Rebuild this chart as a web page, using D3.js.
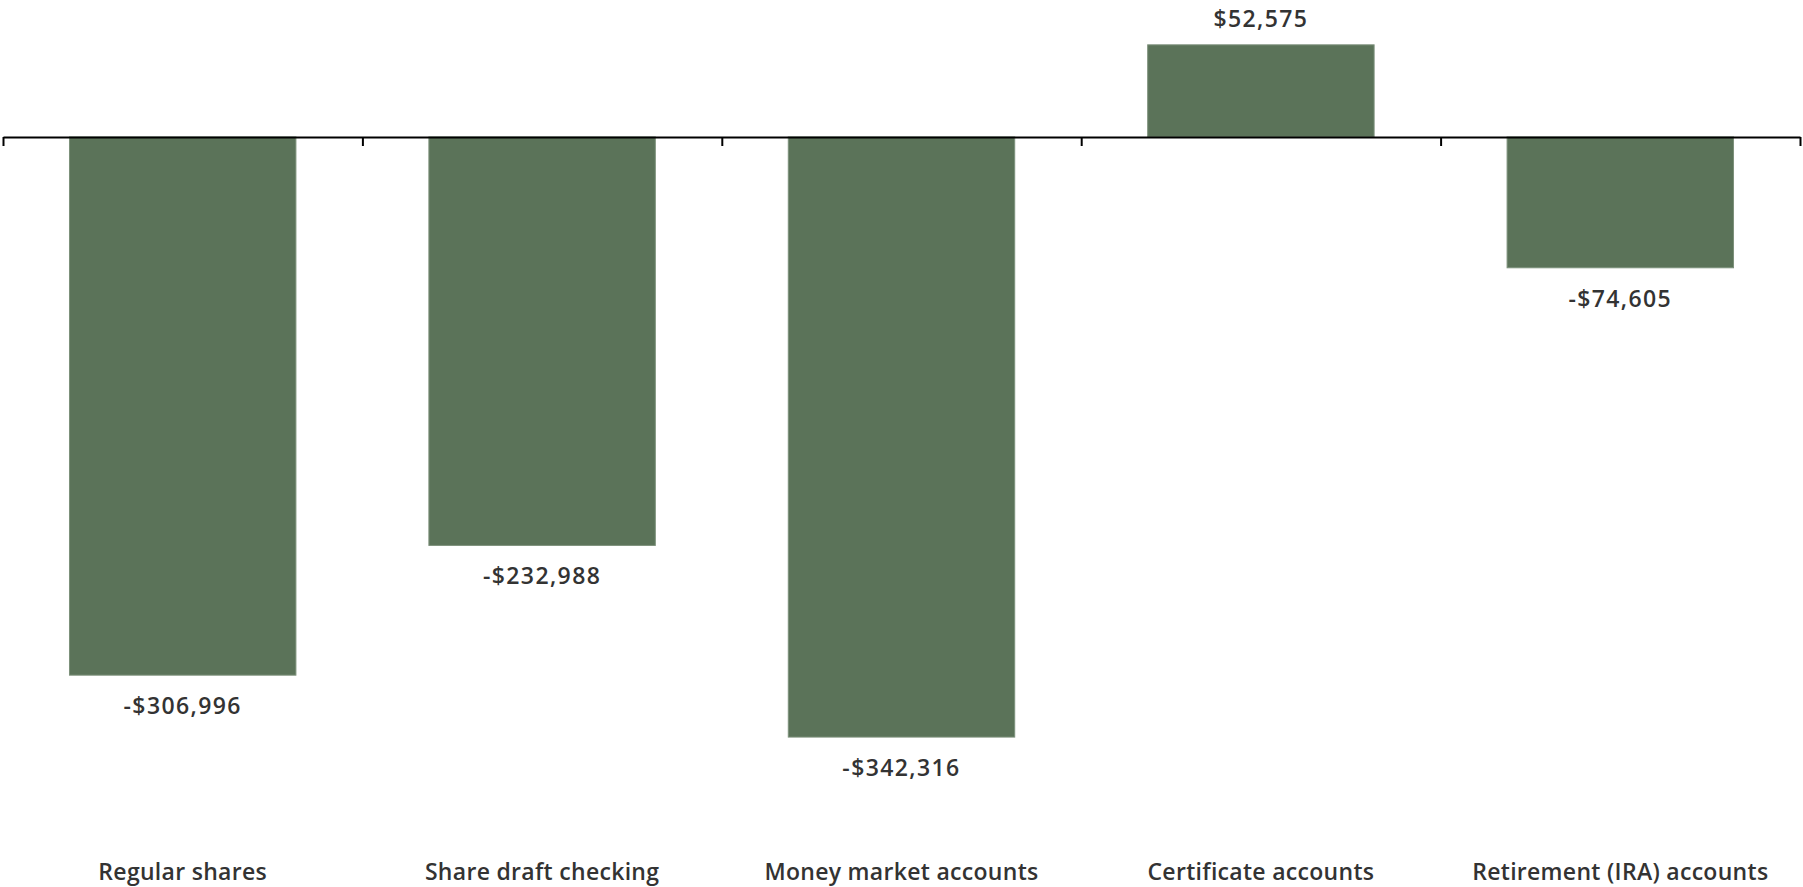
<!DOCTYPE html>
<html>
<head>
<meta charset="utf-8">
<script src="https://cdn.jsdelivr.net/npm/d3@7/dist/d3.min.js"></script>
<style>
  html, body { margin: 0; padding: 0; background: #fff; }
  svg { display: block; }
  text { font-family: "Open Sans", "Lato", sans-serif; fill: #333; }
</style>
</head>
<body>
<svg id="chart" width="1803" height="887"></svg>
<script>
// Change in balance by account type
const categories = ["Regular shares", "Share draft checking", "Money market accounts", "Certificate accounts", "Retirement (IRA) accounts"];
const values = [-306996, -232988, -342316, 52575, -74605];

const W = 1803, H = 887;
const left = 3, right = 1800;
const zeroY = 137;
const pxPerDollar = 0.001753;

const svg = d3.select("#chart");

const x = d3.scaleBand()
  .domain(categories)
  .range([left, right])
  .paddingInner(0.37)
  .paddingOuter(0.185);

const y = d3.scaleLinear()
  .domain([0, -1])
  .range([zeroY, zeroY + pxPerDollar]);

const fmt = v => (v < 0 ? "-$" : "$") + d3.format(",")(Math.abs(v));

// bars
svg.append("g").selectAll("rect")
  .data(values)
  .join("rect")
  .attr("x", (d, i) => x(categories[i]))
  .attr("width", x.bandwidth())
  .attr("y", d => Math.min(y(d), y(0)))
  .attr("height", d => Math.abs(y(d) - y(0)))
  .attr("fill", "#5b7359")
  .attr("stroke", "#7d917b")
  .attr("stroke-width", 1);

// zero line with ticks at category boundaries
const edges = d3.scaleLinear().domain([0, categories.length]).range([left, right]);
const zeroAxis = svg.append("g")
  .attr("transform", `translate(0,${zeroY})`)
  .call(d3.axisBottom(edges)
    .tickValues(d3.range(categories.length + 1))
    .tickFormat("")
    .tickSize(9)
    .tickSizeOuter(0));
zeroAxis.selectAll("path, line").attr("stroke", "#000").attr("stroke-width", 2);

// value labels
svg.append("g").selectAll("text")
  .data(values)
  .join("text")
  .attr("x", (d, i) => x(categories[i]) + x.bandwidth() / 2)
  .attr("y", d => d < 0 ? y(d) + 39 : y(d) - 18)
  .attr("text-anchor", "middle")
  .style("font-size", "23px")
  .style("font-weight", 600)
  .style("letter-spacing", "1.4px")
  .text(fmt);

// category labels
const catAxis = svg.append("g")
  .attr("transform", `translate(0,880)`)
  .call(d3.axisBottom(x).tickSize(0).tickPadding(0));
catAxis.select(".domain").remove();
catAxis.selectAll("text")
  .attr("dy", "0")
  .attr("y", 0)
  .style("font-size", "23px")
  .style("font-weight", 600)
  .style("letter-spacing", "0.3px")
  .style("font-family", "'Open Sans', sans-serif")
  .attr("fill", "#333");
</script>
</body>
</html>
